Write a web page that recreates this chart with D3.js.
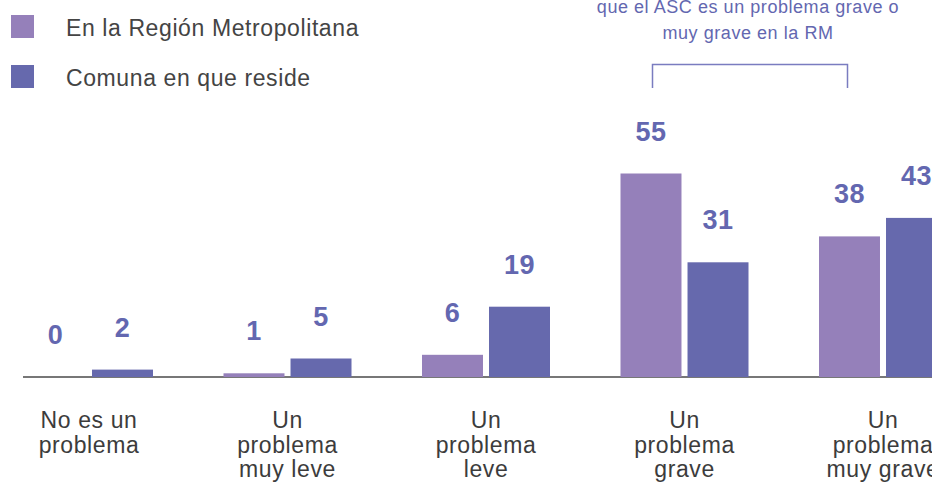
<!DOCTYPE html>
<html>
<head>
<meta charset="utf-8">
<script src="https://cdn.jsdelivr.net/npm/d3@7"></script>
<style>
  body { margin: 0; background: #fff; }
  svg { display: block; font-family: "Liberation Sans", Arial, sans-serif; }
</style>
</head>
<body>
<script>
// Data
var categories = ["No es un problema", "Un problema muy leve", "Un problema leve", "Un problema grave", "Un problema muy grave"];
var categoryLines = [["No es un", "problema"], ["Un", "problema", "muy leve"], ["Un", "problema", "leve"], ["Un", "problema", "grave"], ["Un", "problema", "muy grave"]];
var seriesNames = ["En la Región Metropolitana", "Comuna en que reside"];
var regionValues = [0, 1, 6, 55, 38];
var comunaValues = [2, 5, 19, 31, 43];
var noteLines = ["que el ASC es un problema grave o", "muy grave en la RM"];

var seriesColors = ["#9580ba", "#6669ad"];
var labelColor = "#6367b0";
var textColor = "#3c3c3c";

var width = 932;
var height = 483;
var baseY = 377;

var svg = d3.select("body").append("svg")
    .attr("width", width)
    .attr("height", height);

// scales
var x = d3.scalePoint()
    .domain(categories)
    .range([89, 883]);

var xSub = d3.scaleBand()
    .domain(seriesNames)
    .range([-64, 64])
    .paddingInner(0.09);

var y = d3.scaleLinear()
    .domain([0, 60])
    .range([baseY, baseY - 222]);

var rows = categories.map(function(c, i) {
  return { cat: c, vals: [regionValues[i], comunaValues[i]] };
});

// baseline
svg.append("line")
    .attr("x1", 23).attr("x2", width)
    .attr("y1", baseY).attr("y2", baseY)
    .attr("stroke", "#777")
    .attr("stroke-width", 2);

var groups = svg.selectAll("g.grp")
    .data(rows)
    .enter().append("g")
    .attr("class", "grp")
    .attr("transform", function(d) { return "translate(" + x(d.cat) + ",0)"; });

groups.selectAll("rect")
    .data(function(d) { return d.vals.map(function(v, j) { return { v: v, s: seriesNames[j], j: j }; }); })
    .enter().append("rect")
    .attr("x", function(d) { return xSub(d.s); })
    .attr("width", xSub.bandwidth())
    .attr("y", function(d) { return y(d.v); })
    .attr("height", function(d) { return baseY - y(d.v); })
    .attr("fill", function(d) { return seriesColors[d.j]; });

groups.selectAll("text.val")
    .data(function(d) { return d.vals.map(function(v, j) { return { v: v, s: seriesNames[j] }; }); })
    .enter().append("text")
    .attr("class", "val")
    .attr("x", function(d) { return xSub(d.s) + xSub.bandwidth() / 2; })
    .attr("y", function(d) { return y(d.v) - 33; })
    .attr("text-anchor", "middle")
    .attr("font-size", "27px")
    .attr("font-weight", "bold")
    .attr("letter-spacing", "0.5px")
    .attr("fill", labelColor)
    .text(function(d) { return d.v; });

// category labels
var catText = groups.append("text")
    .attr("text-anchor", "middle")
    .attr("font-size", "23px")
    .attr("letter-spacing", "0.6px")
    .attr("fill", textColor);
catText.selectAll("tspan")
    .data(function(d, i) { return categoryLines[i]; })
    .enter().append("tspan")
    .attr("x", 0)
    .attr("y", function(d, k) { return 428 + k * 24.5; })
    .text(function(d) { return d; });

// legend
var legend = svg.selectAll("g.leg")
    .data(seriesNames)
    .enter().append("g")
    .attr("class", "leg")
    .attr("transform", function(d, i) { return "translate(11," + (15 + i * 50) + ")"; });
legend.append("rect")
    .attr("width", 23).attr("height", 23)
    .attr("fill", function(d, i) { return seriesColors[i]; });
legend.append("text")
    .attr("x", 55)
    .attr("y", 21)
    .attr("font-size", "23px")
    .attr("letter-spacing", "0.6px")
    .attr("fill", "#444")
    .text(function(d) { return d; });

// note + bracket
svg.selectAll("text.note")
    .data(noteLines)
    .enter().append("text")
    .attr("class", "note")
    .attr("x", 748)
    .attr("y", function(d, i) { return 13 + i * 26; })
    .attr("text-anchor", "middle")
    .attr("font-size", "18px")
    .attr("letter-spacing", "0.55px")
    .attr("fill", labelColor)
    .text(function(d) { return d; });

svg.append("path")
    .attr("d", "M652.5,88V64.5H847.5V88")
    .attr("fill", "none")
    .attr("stroke", "#7a7cc0")
    .attr("stroke-width", 1.5);
</script>
</body>
</html>
